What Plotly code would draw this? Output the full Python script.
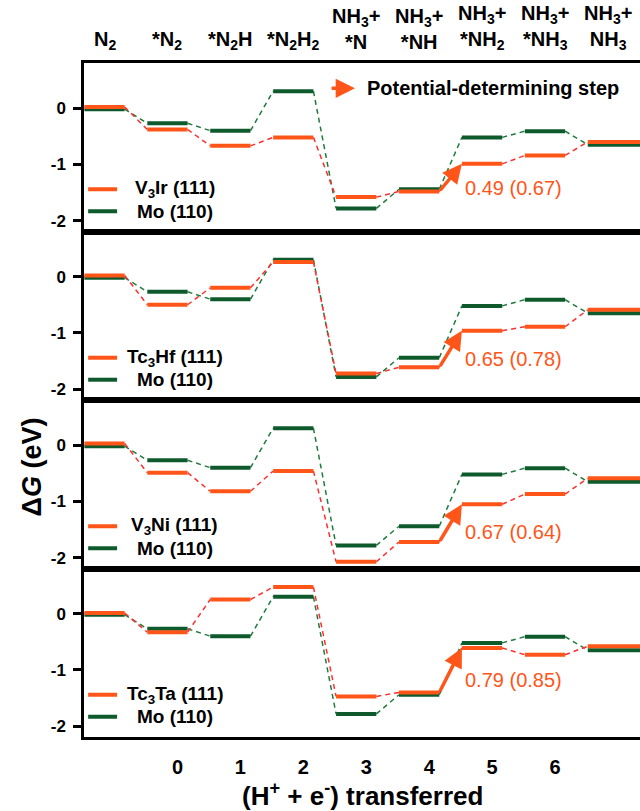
import plotly.graph_objects as go
from plotly.subplots import make_subplots

# ---------------- data ----------------
states = ["N<sub>2</sub>", "*N<sub>2</sub>", "*N<sub>2</sub>H", "*N<sub>2</sub>H<sub>2</sub>",
          "NH<sub>3</sub>+<br>*N", "NH<sub>3</sub>+<br>*NH", "NH<sub>3</sub>+<br>*NH<sub>2</sub>",
          "NH<sub>3</sub>+<br>*NH<sub>3</sub>", "NH<sub>3</sub>+<br>NH<sub>3</sub>"]
transferred = ["0", "1", "2", "3", "4", "5", "6"]

catalysts = ["V<sub>3</sub>Ir (111)", "Tc<sub>3</sub>Hf (111)", "V<sub>3</sub>Ni (111)", "Tc<sub>3</sub>Ta (111)"]
v3ir = [0.02, -0.38, -0.67, -0.52, -1.58, -1.48, -0.99, -0.84, -0.60]
tc3hf = [0.02, -0.50, -0.20, 0.26, -1.72, -1.61, -0.96, -0.89, -0.59]
v3ni = [0.03, -0.49, -0.82, -0.46, -2.07, -1.72, -1.05, -0.87, -0.59]
tc3ta = [0.01, -0.33, 0.25, 0.47, -1.47, -1.40, -0.61, -0.73, -0.58]
mo110 = [-0.02, -0.27, -0.40, 0.30, -1.78, -1.44, -0.52, -0.41, -0.65]
reference_name = "Mo (110)"
pds_labels = ["0.49 (0.67)", "0.65 (0.78)", "0.67 (0.64)", "0.79 (0.85)"]
pds_step = 5  # *NH -> *NH2

series = [v3ir, tc3hf, v3ni, tc3ta]

# ---------------- style ----------------
ORANGE = "#FF5518"
RED_DASH = "#FF2E2E"
GREEN = "#0E5A2C"
GREEN_DASH = "#1F7A3E"
FONT = "Liberation Sans, Arial, Helvetica, sans-serif"
HW = 0.32          # half width of a level
HW_LAST = 0.6
XR = [-0.326, 8.51]
YR = [-2.19, 0.80]
pds_text_y = [-1.42, -1.46, -1.54, -1.17]

fig = make_subplots(rows=4, cols=1, shared_xaxes=True, vertical_spacing=0)


def level_xy(vals):
    xs, ys = [], []
    n = len(vals)
    for i, v in enumerate(vals):
        right = i + (HW_LAST if i == n - 1 else HW)
        xs += [i - HW, right, None]
        ys += [v, v, None]
    return xs, ys


def conn_xy(vals):
    xs, ys = [], []
    for i in range(len(vals) - 1):
        xs += [i + HW, i + 1 - HW, None]
        ys += [vals[i], vals[i + 1], None]
    return xs, ys


for r, (name, vals, lab) in enumerate(zip(catalysts, series, pds_labels), start=1):
    for data, lc, dc in [(mo110, GREEN, GREEN_DASH), (vals, ORANGE, RED_DASH)]:
        cx, cy = conn_xy(data)
        fig.add_trace(go.Scatter(x=cx, y=cy, mode="lines", hoverinfo="skip",
                                 line=dict(color=dc, width=1.5, dash="5px,4px")), row=r, col=1)
        lx, ly = level_xy(data)
        fig.add_trace(go.Scatter(x=lx, y=ly, mode="lines", hoverinfo="skip",
                                 line=dict(color=lc, width=4)), row=r, col=1)
    ax = "x" if r == 1 else f"x{r}"
    ay = "y" if r == 1 else f"y{r}"
    # potential-determining step arrow
    fig.add_annotation(x=pds_step + 1 - HW, y=vals[pds_step + 1], ax=pds_step + HW, ay=vals[pds_step],
                       xref=ax, yref=ay, axref=ax, ayref=ay, text="", showarrow=True,
                       arrowhead=2, arrowsize=1.1, arrowwidth=3.5, arrowcolor=ORANGE, standoff=0)
    fig.add_annotation(x=5.70, y=pds_text_y[r - 1], xref=ax, yref=ay, text=lab, showarrow=False,
                       xanchor="left", yanchor="middle", font=dict(family=FONT, size=20, color=ORANGE))
    # legend
    for yy, col, txt in [(-1.44, ORANGE, name), (-1.83, GREEN, reference_name)]:
        fig.add_shape(type="line", x0=-0.26, x1=0.20, y0=yy, y1=yy, xref=ax, yref=ay,
                      line=dict(color=col, width=4))
        fig.add_annotation(x=1.12, y=yy, xref=ax, yref=ay, text=f"<b>{txt}</b>", showarrow=False,
                           xanchor="center", yanchor="middle", font=dict(family=FONT, size=19, color="black"))

# PDS legend in top panel
fig.add_annotation(x=3.98, y=0.35, ax=3.585, ay=0.35, xref="x", yref="y", axref="x", ayref="y",
                   text="", showarrow=True, arrowhead=2, arrowsize=1.1, arrowwidth=3.5,
                   arrowcolor=ORANGE, standoff=0)
fig.add_annotation(x=4.14, y=0.35, xref="x", yref="y", text="<b>Potential-determining step</b>",
                   showarrow=False, xanchor="left", yanchor="middle",
                   font=dict(family=FONT, size=20, color="black"))

# state labels on top
for i, s in enumerate(states):
    fig.add_annotation(x=i, y=1.0 + 8 / 674, xref="x", yref="paper", text=f"<b>{s}</b>",
                       showarrow=False, xanchor="center", yanchor="bottom",
                       font=dict(family=FONT, size=20, color="black"))

# axis titles
fig.add_annotation(x=0.5, y=-57 / 674, xref="paper", yref="paper",
                   text="<b>(H<sup>+</sup> + e<sup>-</sup>) transferred</b>", showarrow=False,
                   xanchor="center", yanchor="middle", font=dict(family=FONT, size=26, color="black"))
fig.add_annotation(x=-52 / 556, y=0.40, xref="paper", yref="paper", textangle=-90,
                   text="<b>Δ<i>G</i> (eV)</b>", showarrow=False,
                   xanchor="center", yanchor="middle", font=dict(family=FONT, size=27, color="black"))

for r in range(1, 5):
    fig.update_xaxes(range=XR, showline=True, mirror=True, linewidth=2.5, linecolor="black",
                     showgrid=False, zeroline=False, ticks="", showticklabels=(r == 4), row=r, col=1)
    fig.update_yaxes(range=YR, showline=True, mirror=False, linewidth=2.5, linecolor="black",
                     showgrid=False, zeroline=False, ticks="outside", ticklen=8, tickwidth=2.5,
                     tickcolor="black", tickvals=[-2, -1, 0], ticktext=["<b>-2</b>", "<b>-1</b>", "<b>0</b>"],
                     tickfont=dict(family=FONT, size=17, color="black"), ticklabelstandoff=4,
                     row=r, col=1)

fig.update_xaxes(tickvals=[i + 1.16 for i in range(len(transferred))],
                 ticktext=[f"<b>{t}</b>" for t in transferred],
                 tickfont=dict(family=FONT, size=20, color="black"), ticklabelstandoff=10, row=4, col=1)

fig.update_layout(width=640, height=811, margin=dict(l=84, r=0, t=63, b=74),
                  plot_bgcolor="white", paper_bgcolor="white", showlegend=False,
                  hovermode=False)

fig.write_html("out.html", config={"displayModeBar": False},
               post_script="document.body.style.margin='0';document.body.style.overflow='hidden';")
